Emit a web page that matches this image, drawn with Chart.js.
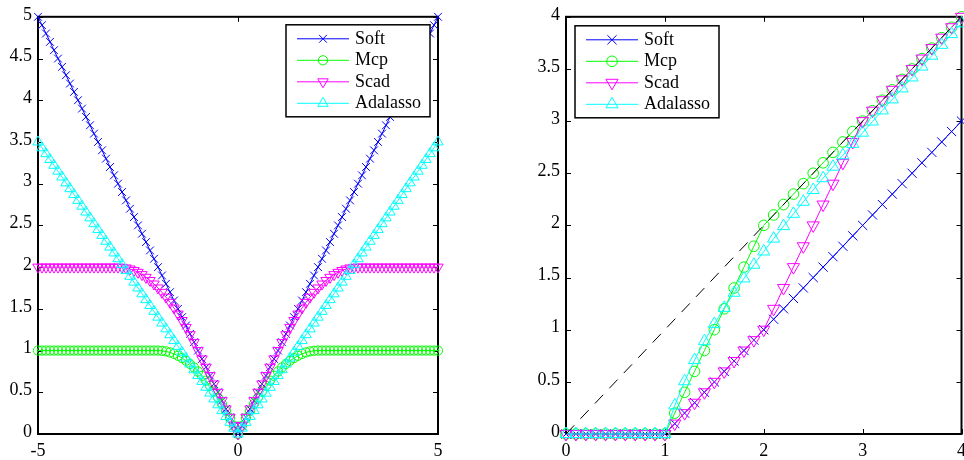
<!DOCTYPE html>
<html>
<head>
<meta charset="utf-8">
<script src="https://cdn.jsdelivr.net/npm/chart.js@4"></script>
<style>
  html, body { margin: 0; padding: 0; background: #fff; overflow: hidden; }
  #wrap { position: relative; width: 964px; height: 460px; overflow: hidden; }
  .box { position: absolute; top: 0; height: 460px; }
  #left { left: 0; width: 450px; }
  #right { left: 520px; width: 452px; }
</style>
</head>
<body>
<div id="wrap">
  <div class="box" id="left"><canvas id="penalty"></canvas></div>
  <div class="box" id="right"><canvas id="threshold"></canvas></div>
</div>
<script>
// left panel: penalty functions
const xPenalty = [
  -5, -4.9, -4.8, -4.7, -4.6, -4.5, -4.4, -4.3, -4.2, -4.1,
  -4, -3.9, -3.8, -3.7, -3.6, -3.5, -3.4, -3.3, -3.2, -3.1,
  -3, -2.9, -2.8, -2.7, -2.6, -2.5, -2.4, -2.3, -2.2, -2.1,
  -2, -1.9, -1.8, -1.7, -1.6, -1.5, -1.4, -1.3, -1.2, -1.1,
  -1, -0.9, -0.8, -0.7, -0.6, -0.5, -0.4, -0.3, -0.2, -0.1,
  0,
  0.1, 0.2, 0.3, 0.4, 0.5, 0.6, 0.7, 0.8, 0.9, 1,
  1.1, 1.2, 1.3, 1.4, 1.5, 1.6, 1.7, 1.8, 1.9, 2,
  2.1, 2.2, 2.3, 2.4, 2.5, 2.6, 2.7, 2.8, 2.9, 3,
  3.1, 3.2, 3.3, 3.4, 3.5, 3.6, 3.7, 3.8, 3.9, 4,
  4.1, 4.2, 4.3, 4.4, 4.5, 4.6, 4.7, 4.8, 4.9, 5
];
const softPenalty = [
  5, 4.9, 4.8, 4.7, 4.6, 4.5, 4.4, 4.3, 4.2, 4.1,
  4, 3.9, 3.8, 3.7, 3.6, 3.5, 3.4, 3.3, 3.2, 3.1,
  3, 2.9, 2.8, 2.7, 2.6, 2.5, 2.4, 2.3, 2.2, 2.1,
  2, 1.9, 1.8, 1.7, 1.6, 1.5, 1.4, 1.3, 1.2, 1.1,
  1, 0.9, 0.8, 0.7, 0.6, 0.5, 0.4, 0.3, 0.2, 0.1,
  0,
  0.1, 0.2, 0.3, 0.4, 0.5, 0.6, 0.7, 0.8, 0.9, 1,
  1.1, 1.2, 1.3, 1.4, 1.5, 1.6, 1.7, 1.8, 1.9, 2,
  2.1, 2.2, 2.3, 2.4, 2.5, 2.6, 2.7, 2.8, 2.9, 3,
  3.1, 3.2, 3.3, 3.4, 3.5, 3.6, 3.7, 3.8, 3.9, 4,
  4.1, 4.2, 4.3, 4.4, 4.5, 4.6, 4.7, 4.8, 4.9, 5
];
const mcpPenalty = [
  1, 1, 1, 1, 1, 1, 1, 1, 1, 1,
  1, 1, 1, 1, 1, 1, 1, 1, 1, 1,
  1, 1, 1, 1, 1, 1, 1, 1, 1, 1,
  1, 0.9975, 0.99, 0.9775, 0.96, 0.9375, 0.91, 0.8775, 0.84, 0.7975,
  0.75, 0.6975, 0.64, 0.5775, 0.51, 0.4375, 0.36, 0.2775, 0.19, 0.0975,
  0,
  0.0975, 0.19, 0.2775, 0.36, 0.4375, 0.51, 0.5775, 0.64, 0.6975, 0.75,
  0.7975, 0.84, 0.8775, 0.91, 0.9375, 0.96, 0.9775, 0.99, 0.9975, 1,
  1, 1, 1, 1, 1, 1, 1, 1, 1, 1,
  1, 1, 1, 1, 1, 1, 1, 1, 1, 1,
  1, 1, 1, 1, 1, 1, 1, 1, 1, 1
];
const scadPenalty = [
  2, 2, 2, 2, 2, 2, 2, 2, 2, 2,
  2, 2, 2, 2, 2, 2, 2, 2, 2, 2,
  2, 1.9975, 1.99, 1.9775, 1.96, 1.9375, 1.91, 1.8775, 1.84, 1.7975,
  1.75, 1.6975, 1.64, 1.5775, 1.51, 1.4375, 1.36, 1.2775, 1.19, 1.0975,
  1, 0.9, 0.8, 0.7, 0.6, 0.5, 0.4, 0.3, 0.2, 0.1,
  0,
  0.1, 0.2, 0.3, 0.4, 0.5, 0.6, 0.7, 0.8, 0.9, 1,
  1.0975, 1.19, 1.2775, 1.36, 1.4375, 1.51, 1.5775, 1.64, 1.6975, 1.75,
  1.7975, 1.84, 1.8775, 1.91, 1.9375, 1.96, 1.9775, 1.99, 1.9975, 2,
  2, 2, 2, 2, 2, 2, 2, 2, 2, 2,
  2, 2, 2, 2, 2, 2, 2, 2, 2, 2
];
const adaPenalty = [
  3.5, 3.43, 3.36, 3.29, 3.22, 3.15, 3.08, 3.01, 2.94, 2.87,
  2.8, 2.73, 2.66, 2.59, 2.52, 2.45, 2.38, 2.31, 2.24, 2.17,
  2.1, 2.03, 1.96, 1.89, 1.82, 1.75, 1.68, 1.61, 1.54, 1.47,
  1.4, 1.33, 1.26, 1.19, 1.12, 1.05, 0.98, 0.91, 0.84, 0.77,
  0.7, 0.63, 0.56, 0.49, 0.42, 0.35, 0.28, 0.21, 0.14, 0.07,
  0,
  0.07, 0.14, 0.21, 0.28, 0.35, 0.42, 0.49, 0.56, 0.63, 0.7,
  0.77, 0.84, 0.91, 0.98, 1.05, 1.12, 1.19, 1.26, 1.33, 1.4,
  1.47, 1.54, 1.61, 1.68, 1.75, 1.82, 1.89, 1.96, 2.03, 2.1,
  2.17, 2.24, 2.31, 2.38, 2.45, 2.52, 2.59, 2.66, 2.73, 2.8,
  2.87, 2.94, 3.01, 3.08, 3.15, 3.22, 3.29, 3.36, 3.43, 3.5
];

// right panel: thresholding rules
const xThreshold = [
  0, 0.1, 0.2, 0.3, 0.4, 0.5, 0.6, 0.7, 0.8, 0.9,
  1, 1.1, 1.2, 1.3, 1.4, 1.5, 1.6, 1.7, 1.8, 1.9,
  2, 2.1, 2.2, 2.3, 2.4, 2.5, 2.6, 2.7, 2.8, 2.9,
  3, 3.1, 3.2, 3.3, 3.4, 3.5, 3.6, 3.7, 3.8, 3.9,
  4
];
const softThreshold = [
  0, 0, 0, 0, 0, 0, 0, 0, 0, 0,
  0, 0.1, 0.2, 0.3, 0.4, 0.5, 0.6, 0.7, 0.8, 0.9,
  1, 1.1, 1.2, 1.3, 1.4, 1.5, 1.6, 1.7, 1.8, 1.9,
  2, 2.1, 2.2, 2.3, 2.4, 2.5, 2.6, 2.7, 2.8, 2.9,
  3
];
const mcpThreshold = [
  0, 0, 0, 0, 0, 0, 0, 0, 0, 0,
  0, 0.2, 0.4, 0.6, 0.8, 1, 1.2, 1.4, 1.6, 1.8,
  2, 2.1, 2.2, 2.3, 2.4, 2.5, 2.6, 2.7, 2.8, 2.9,
  3, 3.1, 3.2, 3.3, 3.4, 3.5, 3.6, 3.7, 3.8, 3.9,
  4
];
const scadThreshold = [
  0, 0, 0, 0, 0, 0, 0, 0, 0, 0,
  0, 0.1, 0.2, 0.3, 0.4, 0.5, 0.6, 0.7, 0.8, 0.9,
  1, 1.2, 1.4, 1.6, 1.8, 2, 2.2, 2.4, 2.6, 2.8,
  3, 3.1, 3.2, 3.3, 3.4, 3.5, 3.6, 3.7, 3.8, 3.9,
  4
];
const adaThreshold = [
  0, 0, 0, 0, 0, 0, 0, 0, 0, 0,
  0, 0.2736, 0.5056, 0.7083, 0.8898, 1.0556, 1.2094, 1.354, 1.4914, 1.623,
  1.75, 1.8732, 1.9934, 2.111, 2.2264, 2.34, 2.4521, 2.5628, 2.6724, 2.7811,
  2.8889, 2.9959, 3.1023, 3.2082, 3.3135, 3.4184, 3.5228, 3.627, 3.7307, 3.8343,
  3.9375
];
const refX = [0, 4];
const refY = [0, 4];

const seriesNames = ['Soft', 'Mcp', 'Scad', 'Adalasso'];
const seriesColors = ['#0000ff', '#00ff00', '#ff00ff', '#00ffff'];
const markerStyles = ['crossRot', 'circle', 'triangle', 'triangle'];
const markerRotation = [0, 0, 180, 0];

const FONT = { family: '"Liberation Serif", serif', size: 18 };

function fmt(v) {
  return String(Number(v.toFixed(2)));
}

function points(xs, ys) {
  return xs.map((x, i) => ({ x: x, y: ys[i] }));
}

// box around the plot area with ticks pointing inwards
const axesBox = {
  id: 'axesBox',
  beforeDatasetsDraw(chart) {
    const { ctx, chartArea: a, scales } = chart;
    ctx.save();
    ctx.strokeStyle = '#000';
    ctx.lineWidth = 1;
    ctx.beginPath();
    scales.x.ticks.forEach(t => {
      const px = Math.round(scales.x.getPixelForValue(t.value)) + 0.5;
      ctx.moveTo(px, a.bottom); ctx.lineTo(px, a.bottom - 5);
      ctx.moveTo(px, a.top); ctx.lineTo(px, a.top + 5);
    });
    scales.y.ticks.forEach(t => {
      const py = Math.round(scales.y.getPixelForValue(t.value)) + 0.5;
      ctx.moveTo(a.left, py); ctx.lineTo(a.left + 5, py);
      ctx.moveTo(a.right, py); ctx.lineTo(a.right - 5, py);
    });
    ctx.stroke();
    ctx.lineWidth = 2;
    ctx.strokeRect(a.left, a.top, a.right - a.left, a.bottom - a.top);
    ctx.restore();
  }
};

const legendBox = {
  id: 'legendBox',
  afterDraw(chart, args, opts) {
    const { ctx, chartArea: a } = chart;
    const items = chart.data.datasets.filter(d => d.label);
    const w = 144, h = 92, rowH = 21.5;
    const x0 = opts.side === 'right' ? a.right - opts.dx - w : a.left + opts.dx;
    const y0 = a.top + opts.dy;
    ctx.save();
    ctx.fillStyle = '#fff';
    ctx.fillRect(x0, y0, w, h);
    ctx.strokeStyle = '#000';
    ctx.lineWidth = 1.5;
    ctx.strokeRect(x0, y0, w, h);
    items.forEach((d, i) => {
      const y = y0 + 14 + i * rowH;
      ctx.strokeStyle = d.borderColor;
      ctx.lineWidth = 1;
      ctx.beginPath();
      ctx.moveTo(x0 + 11, y);
      ctx.lineTo(x0 + 63, y);
      ctx.stroke();
      ctx.fillStyle = 'rgba(0,0,0,0)';
      Chart.helpers.drawPoint(ctx, {
        pointStyle: d.pointStyle, radius: d.pointRadius,
        rotation: d.pointRotation, borderWidth: 1
      }, x0 + 37, y);
      ctx.fillStyle = '#000';
      ctx.font = '18px "Liberation Serif"';
      ctx.textBaseline = 'middle';
      ctx.textAlign = 'left';
      ctx.fillText(d.label, x0 + 69, y);
    });
    ctx.restore();
  }
};

function makeChart(id, xs, series, cfg) {
  const datasets = series.map((ys, i) => ({
    label: seriesNames[i],
    data: points(xs, ys),
    borderColor: seriesColors[i],
    backgroundColor: 'rgba(0,0,0,0)',
    borderWidth: 1,
    pointStyle: markerStyles[i],
    pointRotation: markerRotation[i],
    pointRadius: cfg.radius[markerStyles[i]],
    pointBorderWidth: 1,
    pointBorderColor: seriesColors[i],
    pointBackgroundColor: 'rgba(0,0,0,0)',
    order: 4 - i,
    clip: false
  }));
  if (cfg.ref) {
    datasets.push({
      label: '',
      data: points(cfg.ref[0], cfg.ref[1]),
      borderColor: '#000',
      borderWidth: 1,
      borderDash: [12, 9],
      pointRadius: 0,
      order: 0
    });
  }
  return new Chart(document.getElementById(id), {
    type: 'line',
    data: { datasets },
    options: {
      responsive: true,
      maintainAspectRatio: false,
      animation: false,
      layout: { padding: { top: 13, right: cfg.padRight, left: 0, bottom: 0 } },
      plugins: {
        legend: { display: false },
        tooltip: { enabled: false },
        legendBox: cfg.legend
      },
      scales: {
        x: {
          type: 'linear', min: cfg.xMin, max: cfg.xMax,
          ticks: { stepSize: cfg.xStep, color: '#000', font: FONT, padding: 6, maxRotation: 0, callback: fmt },
          grid: { display: false, drawTicks: false },
          border: { display: false },
          afterFit: s => { s.height = 26; }
        },
        y: {
          type: 'linear', min: 0, max: cfg.yMax,
          ticks: { stepSize: 0.5, color: '#000', font: FONT, padding: 6, labelOffset: -2, callback: fmt },
          grid: { display: false, drawTicks: false },
          border: { display: false },
          afterFit: s => { s.width = cfg.yWidth; }
        }
      }
    },
    plugins: [axesBox, legendBox]
  });
}

makeChart('penalty', xPenalty, [softPenalty, mcpPenalty, scadPenalty, adaPenalty], {
  xMin: -5, xMax: 5, xStep: 5, yMax: 5, yWidth: 38, padRight: 12,
  radius: { crossRot: 5.5, circle: 4.6, triangle: 6 },
  legend: { side: 'right', dx: 8, dy: 8 }
});

makeChart('threshold', xThreshold, [softThreshold, mcpThreshold, scadThreshold, adaThreshold], {
  xMin: 0, xMax: 4, xStep: 1, yMax: 4, yWidth: 46, padRight: 6,
  radius: { crossRot: 6.5, circle: 5.3, triangle: 7 },
  legend: { side: 'left', dx: 9, dy: 9 },
  ref: [refX, refY]
});
</script>
</body>
</html>
